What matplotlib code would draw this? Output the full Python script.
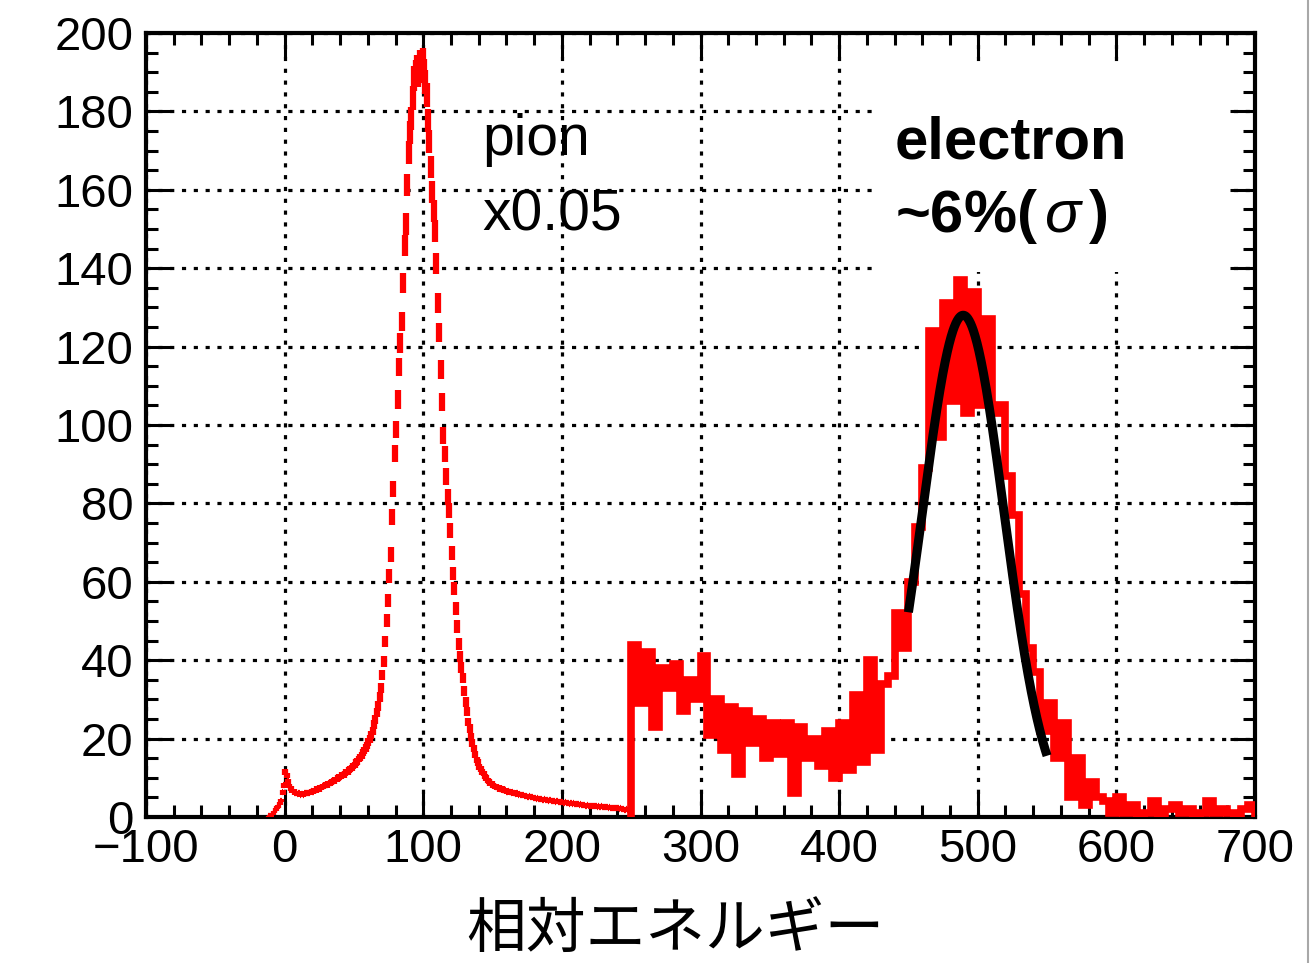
import matplotlib
matplotlib.use('Agg')
import numpy as np
import matplotlib.pyplot as plt
from matplotlib.ticker import MultipleLocator
from matplotlib.patches import Rectangle
from matplotlib.lines import Line2D

plt.rcParams['font.family'] = ['Liberation Sans', 'Noto Sans CJK JP', 'DejaVu Sans']
plt.rcParams['mathtext.fontset'] = 'custom'
plt.rcParams['mathtext.it'] = 'Liberation Sans:italic'
plt.rcParams['mathtext.rm'] = 'Liberation Sans'

# pion spectrum (scaled x0.05), 1 unit bins starting at -12
pion_start = -12
pion_width = 1
pion_vals = [
    0.2, 0.3, 0.6, 0.8, 1.3, 1.9, 2.4, 2.6, 3.5, 4.2, 6.3, 8.1,
    11.4, 10.6, 9.1, 7.9, 7.3, 6.6, 6.6, 6.2, 6.1, 5.9,
    6.0, 5.7, 5.9, 5.7, 6.1, 6.0, 6.2, 6.1, 6.4, 6.6,
    6.5, 6.9, 6.8, 7.2, 7.1, 7.5, 7.4, 7.8, 7.9, 8.2,
    8.1, 8.5, 8.6, 8.8, 9.1, 9.2, 9.6, 9.5, 9.9, 10.2,
    10.3, 10.7, 10.6, 11.1, 11.4, 11.5, 12.0, 12.3, 12.5, 13.0,
    13.3, 13.9, 14.1, 14.8, 15.2, 15.6, 16.4, 16.9, 17.6, 18.3,
    19.1, 19.8, 21.0, 21.9, 23.6, 24.8, 26.7, 28.3, 30.6, 32.8,
    36.2, 39.6, 44.8, 50.1, 55.2, 61.4, 67.0, 76.5, 83.6, 92.8,
    98.9, 106.5, 114.8, 120.9, 126.4, 136.2, 145.7, 151.3, 161.2, 169.5,
    174.6, 178.2, 183.5, 188.4, 190.1, 191.3, 189.2, 192.6, 190.7, 193.0,
    190.4, 187.6, 184.1, 177.6, 172.3, 165.8, 159.4, 154.6, 149.5, 141.3,
    131.2, 123.6, 114.2, 105.8, 97.3, 92.6, 86.9, 81.7, 78.2, 73.1,
    67.4, 62.1, 58.3, 53.2, 48.6, 44.1, 40.9, 38.2, 35.4, 32.1,
    29.3, 26.8, 24.2, 22.6, 20.3, 18.9, 17.4, 15.9, 14.5, 13.9,
    12.8, 12.3, 11.5, 11.1, 10.3, 10.0, 9.3, 9.1, 8.6, 8.5,
    8.1, 7.8, 7.7, 7.4, 7.5, 7.1, 7.2, 6.9, 6.8, 6.9,
    6.5, 6.6, 6.3, 6.2, 6.3, 6.0, 5.9, 6.0, 5.7, 5.8,
    5.6, 5.5, 5.7, 5.3, 5.4, 5.2, 5.3, 5.0, 5.1, 4.9,
    4.9, 4.7, 4.8, 4.6, 4.7, 4.5, 4.4, 4.6, 4.3, 4.4,
    4.2, 4.3, 4.1, 4.0, 4.2, 3.9, 4.0, 3.8, 3.9, 3.7,
    3.8, 3.6, 3.7, 3.5, 3.6, 3.4, 3.5, 3.3, 3.5, 3.2,
    3.3, 3.2, 3.1, 3.3, 3.0, 3.1, 3.0, 2.9, 3.1, 2.8,
    2.9, 2.8, 2.9, 2.7, 2.8, 2.6, 2.8, 2.6, 2.7, 2.5,
    2.6, 2.5, 2.6, 2.4, 2.5, 2.3, 2.4, 2.3, 2.2, 2.4,
    2.2, 2.1, 2.2, 2.0, 2.1, 1.9, 2.0, 1.8, 1.9, 1.7,
]
pion_scale = 0.05

# electron spectrum, 5 unit bins starting at 250
elec_start = 250
elec_width = 5
elec_counts = [
    44, 29, 42, 23, 38, 33, 39, 27, 35, 30,
    41, 21, 30, 17, 28, 11, 27, 19, 25, 15,
    24, 16, 24, 6, 23, 15, 20, 13, 22, 10,
    24, 12, 31, 14, 40, 17, 34, 36, 52, 43,
    60, 74, 89, 124, 97, 131, 106, 137, 103, 134,
    105, 127, 103, 105, 87, 77, 57, 43, 37, 22,
    29, 15, 24, 5, 15, 3, 9, 5, 4, 1,
    5, 1, 3, 0, 1, 4, 0, 2, 3, 1,
    2, 0, 1, 4, 1, 2, 1, 0, 2, 3,
]

# gaussian fit on the electron peak
fit_amp = 128.0
fit_mean = 489.5
fit_sigma = 29.5
fit_range = (450, 550)

xticks = [-100, 0, 100, 200, 300, 400, 500, 600, 700]
yticks = [0, 20, 40, 60, 80, 100, 120, 140, 160, 180, 200]

fig = plt.figure(figsize=(13.16, 9.63), dpi=100)
ax = fig.add_axes([146/1316, 1-817/963, (1255-146)/1316, (817-33)/963])
ax.set_axisbelow(True)

# pion points with error bars
pion_vals = np.array(pion_vals)
pion_x = pion_start + pion_width*(np.arange(len(pion_vals)) + 0.5)
pion_err = np.sqrt(pion_vals*pion_scale)
ax.errorbar(pion_x, pion_vals, xerr=pion_width/2, yerr=pion_err, fmt='none',
            ecolor='red', elinewidth=4.5, capsize=0, zorder=3)

# electron histogram
edges = elec_start + elec_width*np.arange(len(elec_counts) + 1)
ax.stairs(elec_counts, edges, baseline=0, color='red', lw=5.5, zorder=3)

# fit curve
xf = np.linspace(fit_range[0], fit_range[1], 300)
yf = fit_amp*np.exp(-0.5*((xf - fit_mean)/fit_sigma)**2)
ax.plot(xf, yf, color='black', lw=6.5, zorder=4, solid_capstyle='butt')

# white box behind the electron label
ax.add_patch(Rectangle((427, 139), 253, 52, facecolor='white', edgecolor='none', zorder=1))

ax.text(142.4, 168.9, 'pion', fontsize=41, va='baseline', ha='left', zorder=5)
ax.text(142.4, 149.7, 'x0.05', fontsize=41, va='baseline', ha='left', zorder=5)
ax.text(440.3, 168.1, 'electron', fontsize=43, fontweight='bold', va='baseline', ha='left', zorder=5)
ax.text(440.3, 149.2, r'~6%($\,\sigma\,$)', fontsize=43, fontweight='bold', va='baseline', ha='left', zorder=5)

ax.set_xlim(-100, 700)
ax.set_ylim(0, 200)
ax.set_xticks(xticks)
ax.set_yticks(yticks)
ax.xaxis.set_minor_locator(MultipleLocator(20))
ax.yaxis.set_minor_locator(MultipleLocator(5))
ax.tick_params(which='both', direction='in', top=True, right=True, width=2.2, labelsize=34)
ax.tick_params(which='major', length=18)
ax.tick_params(which='minor', length=8.5)
ax.tick_params(axis='x', pad=8)
ax.tick_params(axis='y', pad=9)
for s in ax.spines.values():
    s.set_linewidth(3)

ax.grid(which='major', color='black', linestyle=(0, (1.3, 2.4)), linewidth=2.3)

fig.text(675/1316, 1-930/963, '相対エネルギー', fontsize=43, family=['Noto Sans CJK JP', 'DejaVu Sans'],
         ha='center', va='center')

# screenshot edge line on the right
fig.add_artist(Line2D([1308/1316, 1308/1316], [0, 1], transform=fig.transFigure, color='#a8a8a8', lw=1.5))

plt.savefig('out.png', dpi=100)
